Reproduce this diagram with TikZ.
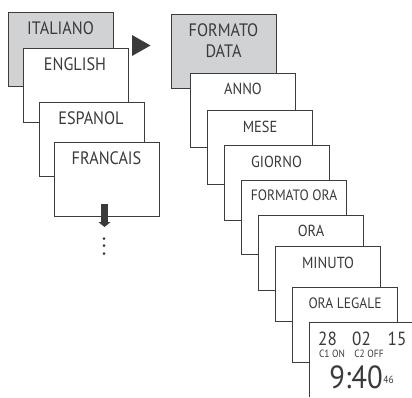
\documentclass[tikz,border=0pt]{standalone}
\usepackage{fontspec}
\setmainfont[FakeStretch=0.9]{PT Sans}
\usetikzlibrary{arrows.meta}
\definecolor{ln}{HTML}{3C3C3E}
\definecolor{gr}{HTML}{D1D2D4}
\definecolor{tx}{HTML}{3A3A3C}
\tikzset{
 x=1pt,y=-1pt,
 card/.style={draw=ln,line width=1pt,fill=white,anchor=north west,minimum width=105pt,minimum height=74.5pt,inner sep=0pt,outer sep=0pt},
 greycard/.style={card,fill=gr},
 lab/.style={text=tx,font=\fontsize{18}{20}\selectfont,inner sep=0pt,align=center},
 small/.style={text=tx,font=\fontsize{16}{18}\selectfont,inner sep=0pt},
 mid/.style={text=tx,font=\fontsize{15}{17}\selectfont,inner sep=0pt},
 digit/.style={text=tx,font=\fontsize{19}{21}\selectfont,inner sep=0pt},
 tiny/.style={text=tx,font=\fontsize{10.5}{12}\selectfont,inner sep=0pt},
 big/.style={text=tx,font=\fontsize{32}{34}\selectfont,inner sep=0pt},
 dotm/.style={circle,fill=tx,minimum size=3pt,inner sep=0pt},
}
\begin{document}
\begin{tikzpicture}
\useasboundingbox (0,0) rectangle (412,397);
\clip (0,0) rectangle (412,397);
\node[greycard] (it) at (8,12) {};
\node[lab] (itl) at (60.5,28) {ITALIANO};
\node[card] (en) at (23,48) {};
\node[lab] (enl) at (75,64.5) {ENGLISH};
\node[card] (es) at (39,102) {};
\node[lab] (esl) at (91,118) {ESPANOL};
\node[card] (fr) at (54,142) {};
\node[lab] (frl) at (106.5,158.5) {FRANCAIS};
\fill[tx] (132,35) -- (150.5,45.5) -- (132,56) -- cycle;
\coordinate (as) at (104.5,203.5);
\coordinate (ae) at (104.5,227);
\draw[tx,line width=7.5pt,-{Triangle[length=5pt,width=12pt]}] (as) -- (ae);
\node[dotm] (d1) at (104,238.5) {};
\node[dotm] (d2) at (104,245.5) {};
\node[dotm] (d3) at (104,253.5) {};
\node[greycard] (fd) at (171,14) {};
\node[lab] (fdl) at (223.5,41) {FORMATO\\[1pt]DATA};
\node[card] (an) at (190.5,73) {};
\node[small] (anl) at (243,89) {ANNO};
\node[card] (me) at (207.5,110) {};
\node[small] (mel) at (260,126.5) {MESE};
\node[card] (gi) at (224,145.5) {};
\node[small] (gil) at (276.5,162) {GIORNO};
\node[card] (fo) at (241.5,180) {};
\node[mid] (fol) at (294,195.5) {FORMATO ORA};
\node[card] (or) at (258.5,215.5) {};
\node[small] (orl) at (311,231) {ORA};
\node[card] (mi) at (275.5,246.5) {};
\node[small] (mil) at (328,262.5) {MINUTO};
\node[card] (ol) at (292.5,287.5) {};
\node[mid] (oll) at (345,303.5) {ORA LEGALE};
\fill[white] (309.5,322.5) rectangle (412,397);
\coordinate (ltr) at (412,322.5);
\coordinate (ltl) at (309.5,322.5);
\coordinate (lbl) at (309.5,397);
\draw[ln,line width=1pt] (ltr) -- (ltl) -- (lbl);
\node[digit] (n1) at (327.5,339) {28};
\node[digit] (n2) at (361.5,339) {02};
\node[digit] (n3) at (397,339) {15};
\node[tiny] (c1) at (332,354) {C1 ON};
\node[tiny] (c2) at (369,354) {C2 OFF};
\node[big] (tm) at (356,377) {9:40};
\node[tiny] (sec) at (388.5,380) {46};
\end{tikzpicture}
\end{document}
